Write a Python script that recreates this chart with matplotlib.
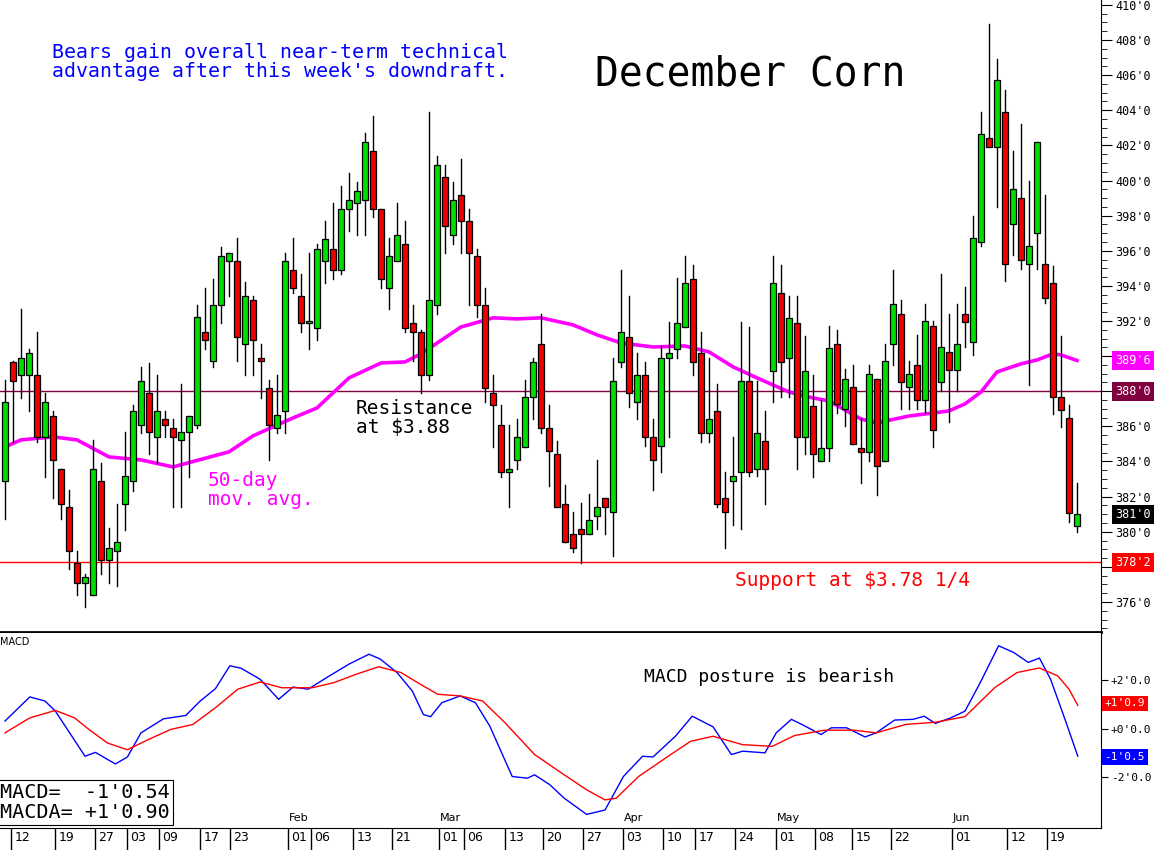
import matplotlib
matplotlib.use("Agg")
import matplotlib.pyplot as plt
from matplotlib.patches import Rectangle

# daily candles, December corn (cents/bu)
opens = [382.9, 389.65, 388.9, 388.9, 388.9, 385.4, 386.6, 383.6, 381.4, 378.2,
         377.1, 376.4, 382.9, 378.4, 378.9, 381.6, 382.9, 386.1, 387.9, 385.4,
         386.4, 385.9, 385.2, 385.7, 386.1, 391.4, 389.7, 392.9, 395.4, 395.4,
         390.7, 393.2, 389.9, 388.2, 385.9, 386.9, 394.9, 393.4, 391.9, 391.6,
         395.4, 396.1, 394.9, 398.4, 398.7, 398.9, 401.7, 398.4, 393.9, 395.4,
         396.4, 391.9, 391.4, 388.9, 392.9, 400.2, 396.9, 399.2, 397.7, 395.7,
         392.9, 387.9, 386.1, 383.4, 384.1, 384.85, 387.65, 390.7, 385.9, 384.4,
         381.6, 379.85, 380.15, 379.85, 380.9, 381.9, 381.1, 389.65, 391.1, 387.4,
         388.9, 385.4, 384.9, 389.9, 390.4, 391.65, 394.4, 390.2, 385.65, 386.9,
         381.9, 382.9, 383.4, 388.6, 383.6, 385.15, 389.15, 393.6, 389.9, 391.9,
         385.4, 387.15, 384.05, 384.75, 390.7, 387.0, 388.25, 384.75, 384.55, 388.7,
         384.05, 390.7, 392.4, 388.25, 389.5, 387.5, 391.7, 388.5, 390.25, 389.2,
         392.4, 390.8, 396.5, 402.4, 401.9, 403.9, 397.5, 399.0, 395.25, 397.0,
         395.25, 394.15, 387.7, 386.5, 380.3]
highs = [388.65, 389.7, 392.7, 390.4, 391.4, 387.9, 386.9, 383.6, 382.4, 378.9,
         377.6, 385.2, 383.9, 380.2, 381.6, 385.7, 387.2, 389.4, 389.6, 388.9,
         386.9, 386.4, 388.4, 386.6, 392.9, 393.9, 394.4, 396.2, 395.9, 396.7,
         394.2, 393.4, 390.7, 388.65, 388.9, 395.9, 396.7, 394.7, 395.9, 396.4,
         397.7, 398.7, 399.7, 400.4, 399.9, 402.7, 403.7, 398.4, 396.7, 398.7,
         397.7, 392.9, 391.5, 403.9, 401.4, 400.9, 399.9, 401.2, 398.4, 396.1,
         393.9, 388.9, 387.2, 386.1, 386.4, 388.65, 389.9, 392.4, 387.2, 385.15,
         382.65, 381.1, 381.65, 382.15, 384.1, 381.9, 389.9, 394.9, 393.4, 390.2,
         389.65, 386.4, 390.6, 391.95, 394.45, 395.7, 395.2, 391.4, 389.9, 388.4,
         383.4, 385.4, 391.95, 391.65, 388.6, 386.9, 395.7, 395.2, 393.4, 393.4,
         391.15, 388.9, 387.5, 391.7, 391.5, 389.25, 389.5, 386.5, 389.5, 388.7,
         390.7, 394.9, 393.2, 389.75, 391.2, 392.95, 392.0, 394.7, 392.4, 392.95,
         393.95, 398.0, 403.9, 408.9, 406.9, 405.15, 401.7, 403.2, 399.95, 402.2,
         399.2, 395.15, 391.15, 387.2, 382.75]
lows = [380.7, 385.1, 387.6, 386.9, 385.1, 383.1, 381.9, 380.7, 377.9, 376.4,
        375.7, 376.4, 377.6, 377.1, 376.9, 380.1, 382.3, 385.6, 384.4, 383.9,
        385.4, 381.4, 381.4, 383.1, 385.9, 390.4, 389.4, 391.9, 393.4, 389.7,
        388.9, 388.9, 387.6, 384.1, 385.6, 385.65, 393.6, 391.4, 390.4, 390.9,
        394.15, 394.4, 394.7, 397.1, 396.9, 396.9, 397.9, 393.9, 392.7, 395.4,
        391.4, 389.7, 387.9, 388.65, 392.4, 395.9, 396.4, 395.9, 392.9, 392.2,
        387.4, 384.85, 383.1, 381.4, 383.6, 384.85, 386.4, 385.65, 382.6, 381.4,
        379.4, 378.85, 378.2, 379.85, 380.15, 379.85, 378.6, 389.4, 387.1, 386.4,
        384.9, 382.4, 383.4, 385.4, 389.9, 391.65, 388.9, 385.1, 385.1, 381.4,
        379.1, 380.4, 380.15, 383.15, 383.15, 381.6, 387.4, 387.65, 387.65, 383.6,
        384.4, 383.1, 384.05, 384.05, 386.75, 386.0, 385.0, 382.8, 384.05, 382.1,
        384.05, 389.5, 387.0, 387.0, 387.0, 386.75, 384.8, 388.0, 386.25, 388.0,
        390.5, 390.05, 396.25, 401.9, 398.5, 394.25, 395.75, 394.95, 388.35, 394.95,
        393.0, 386.7, 385.95, 380.55, 380.0]
closes = [387.36, 388.6, 389.9, 390.2, 385.4, 387.4, 384.1, 381.6, 378.9, 377.1,
          377.4, 383.6, 378.4, 379.1, 379.4, 383.2, 386.9, 388.6, 385.7, 386.9,
          386.1, 385.4, 385.7, 386.6, 392.2, 390.9, 392.9, 395.7, 395.9, 391.1,
          393.4, 390.9, 389.7, 386.1, 386.65, 395.4, 393.9, 391.9, 391.9, 396.1,
          396.65, 394.9, 398.4, 398.9, 399.4, 402.2, 398.4, 394.4, 395.7, 396.9,
          391.6, 391.4, 388.9, 393.2, 400.9, 397.4, 398.9, 397.7, 395.9, 392.9,
          388.2, 387.2, 383.4, 383.6, 385.4, 387.65, 389.65, 385.9, 384.6, 381.4,
          379.4, 379.1, 379.85, 380.65, 381.4, 381.4, 388.6, 391.4, 387.9, 388.9,
          385.4, 384.1, 389.9, 390.2, 391.9, 394.15, 389.65, 385.65, 386.4, 381.6,
          381.1, 383.2, 388.6, 383.4, 385.65, 383.6, 394.15, 389.65, 392.15, 385.4,
          389.15, 384.4, 384.75, 390.45, 387.25, 388.7, 385.0, 384.55, 389.0, 383.75,
          389.75, 392.95, 388.5, 389.0, 387.5, 392.0, 385.8, 390.5, 389.2, 390.7,
          391.95, 396.75, 402.65, 401.9, 405.7, 395.25, 399.5, 395.5, 396.25, 402.2,
          393.3, 387.7, 386.95, 381.05, 381.0]

# 50-day moving average, read at selected bars
ma_idx = [0, 2, 6, 9, 13, 17, 21, 28, 31, 36, 39, 43, 47, 50, 52, 57, 61, 64, 67,
          71, 74, 77, 81, 85, 88, 91, 94, 98, 101, 103, 107, 109, 113, 116, 118,
          120, 122, 124, 127, 129, 131, 132, 134]
ma_val = [384.83, 385.23, 385.4, 385.23, 384.26, 384.09, 383.69, 384.55, 385.46,
          386.48, 387.05, 388.76, 389.61, 389.67, 390.13, 391.66, 392.18, 392.12,
          392.18, 391.78, 391.21, 390.75, 390.52, 390.58, 390.24, 389.39, 388.76,
          387.96, 387.62, 387.45, 386.42, 386.2, 386.59, 386.76, 386.88, 387.28,
          387.96, 389.1, 389.56, 389.78, 390.13, 390.07, 389.75]

# MACD lines
macd_idx = [0, 3.1, 5.0, 6.3, 10.0, 11.3, 13.8, 15.3, 17.0, 19.8, 22.6, 24.4, 26.3,
            28.1, 29.5, 31.9, 34.2, 36.0, 37.9, 40.2, 43.0, 45.5, 46.9, 49.0, 50.9,
            52.3, 53.2, 54.6, 56.9, 58.8, 60.6, 63.4, 65.3, 66.2, 68.1, 69.9, 72.7,
            75.0, 77.3, 79.7, 81.0, 83.8, 85.9, 88.5, 90.8, 92.2, 95.0, 96.4, 98.3,
            99.6, 102.0, 103.3, 105.2, 107.5, 108.9, 111.2, 113.5, 114.9, 116.3,
            118.2, 120.0, 121.9, 124.2, 126.1, 127.9, 129.3, 130.7, 132.5, 134.1]
macd_val = [0.31, 1.31, 1.14, 0.72, -1.15, -0.99, -1.47, -1.18, -0.18, 0.40, 0.54,
            1.14, 1.65, 2.60, 2.50, 2.04, 1.21, 1.72, 1.63, 2.11, 2.67, 3.08, 2.88,
            2.32, 1.56, 0.58, 0.49, 1.07, 1.35, 1.07, 0.10, -1.99, -2.06, -1.92,
            -2.33, -2.89, -3.56, -3.38, -1.99, -1.15, -1.18, -0.32, 0.51, 0.07,
            -1.08, -0.94, -1.01, -0.18, 0.38, 0.17, -0.25, 0.03, 0.03, -0.35, -0.18,
            0.35, 0.38, 0.51, 0.21, 0.44, 0.72, 1.90, 3.43, 3.15, 2.74, 2.92, 2.04,
            0.38, -1.15]
sig_idx = [0, 3.1, 6.3, 8.7, 10.5, 12.8, 15.3, 17.9, 20.7, 23.5, 26.3, 29.1, 31.9,
           34.6, 38.4, 41.1, 43.9, 46.7, 49.5, 52.3, 54.1, 56.9, 59.7, 62.5, 66.2,
           69.9, 72.7, 75.0, 76.4, 79.2, 82.9, 85.7, 88.5, 92.2, 95.9, 98.7, 102.4,
           106.1, 108.9, 112.6, 116.3, 120.0, 123.7, 126.5, 129.3, 131.6, 133.0, 134.1]
sig_val = [-0.18, 0.44, 0.75, 0.44, -0.04, -0.60, -0.88, -0.46, -0.04, 0.17, 0.86,
           1.63, 1.93, 1.69, 1.69, 1.90, 2.25, 2.56, 2.32, 1.76, 1.42, 1.35, 1.14,
           0.24, -1.08, -1.92, -2.54, -2.96, -2.89, -1.99, -1.15, -0.53, -0.32,
           -0.67, -0.74, -0.29, -0.07, -0.07, -0.18, 0.17, 0.26, 0.49, 1.69, 2.32,
           2.51, 2.18, 1.63, 0.96]

date_pos = [0.77, 6.3, 11.3, 15.3, 19.3, 24.4, 28.1, 35.4, 38.3, 43.5, 48.4, 54.3,
            57.4, 62.5, 67.3, 72.2, 77.3, 82.3, 86.3, 91.3, 96.4, 101.3, 105.9,
            110.7, 118.4, 125.3, 130.2]
date_lab = ["12", "19", "27", "03", "09", "17", "23", "01", "06", "13", "21", "01",
            "06", "13", "20", "27", "03", "10", "17", "24", "01", "08", "15", "22",
            "01", "12", "19"]
month_pos = [35.4, 54.3, 77.3, 96.4, 118.4]
month_lab = ["Feb", "Mar", "Apr", "May", "Jun"]

W, H = 1164, 850
mono = "DejaVu Sans Mono"
fig = plt.figure(figsize=(W / 100, H / 100), dpi=100)


def px_axes(x0, y0, x1, y1):
    return fig.add_axes([x0 / W, 1 - y1 / H, (x1 - x0) / W, (y1 - y0) / H])


xlim = (-0.625, 137.0)

# ---- price panel
ax = px_axes(0, 0, 1101, 632)
ax.set_xlim(*xlim)
ax.set_ylim(374.29, 410.28)
for i in range(len(opens)):
    o, h, l, c = opens[i], highs[i], lows[i], closes[i]
    ax.plot([i, i], [l, h], color="black", lw=1, zorder=2)
    col = "#00dd00" if c >= o else "#ee0000"
    ax.add_patch(Rectangle((i - 0.38, min(o, c)), 0.76, max(abs(c - o), 0.12),
                           facecolor=col, edgecolor="black", lw=0.9, zorder=3))
ax.plot(ma_idx, ma_val, color="#ff00ff", lw=2.6, zorder=1)
ax.axhline(388.0, color="#800040", lw=1, zorder=0)
ax.axhline(378.25, color="#ff0000", lw=1, zorder=0)

ax.set_xticks([])
ax.yaxis.tick_right()
ax.set_yticks(range(376, 411, 2))
ax.set_yticklabels(["" if v in (378, 388, 390) else f"{v}'0"
                    for v in range(376, 411, 2)], fontsize=8.5, family=mono)
ax.set_yticks([v / 2 for v in range(749, 821)], minor=True)
ax.tick_params(axis="y", which="major", length=8, pad=2)
ax.tick_params(axis="y", which="minor", length=4)
for s in ["top", "left"]:
    ax.spines[s].set_visible(False)
ax.spines["bottom"].set_linewidth(2)

for val, txt, bg, fg in [(389.75, "389'6", "#ff00ff", "white"),
                         (388.0, "388'0", "#800040", "white"),
                         (381.0, "381'0", "black", "white"),
                         (378.25, "378'2", "#ff0000", "white")]:
    ax.text(1.013, val, txt, transform=ax.get_yaxis_transform(), fontsize=8.5,
            family=mono, color=fg, va="center", ha="left", clip_on=False,
            bbox=dict(boxstyle="square,pad=0.25", fc=bg, ec="none"))

ax.text(52 / 1101, 1 - 62 / 632, "Bears gain overall near-term technical\n"
        "advantage after this week's downdraft.", transform=ax.transAxes,
        color="#0000ff", fontsize=14.3, family=mono, va="center",
        linespacing=0.95)
ax.text(595 / 1101, 1 - 75 / 632, "December Corn", transform=ax.transAxes,
        fontsize=28.5, family=mono, va="center")
ax.text(356 / 1101, 1 - 418 / 632, "Resistance\nat $3.88", transform=ax.transAxes,
        fontsize=14, family=mono, va="center", linespacing=0.95)
ax.text(208 / 1101, 1 - 490 / 632, "50-day\nmov. avg.", transform=ax.transAxes,
        fontsize=14, family=mono, va="center", color="#ff00ff", linespacing=0.95)
ax.text(735 / 1101, 1 - 581 / 632, "Support at $3.78 1/4", transform=ax.transAxes,
        fontsize=14, family=mono, va="center", color="#ff0000")

# ---- MACD panel
mx = px_axes(0, 633, 1101, 828)
mx.set_xlim(*xlim)
mx.set_ylim(-4.125, 3.96)
mx.plot(macd_idx, macd_val, color="#0000ff", lw=1)
mx.plot(sig_idx, sig_val, color="#ff0000", lw=1)
mx.set_xticks([])
mx.yaxis.tick_right()
mx.set_yticks([2, 0, -2])
mx.set_yticklabels(["+2'0.0", "+0'0.0", "-2'0.0"], fontsize=8, family=mono)
mx.tick_params(axis="y", length=5, pad=2)
for s in ["top", "left"]:
    mx.spines[s].set_visible(False)
for val, txt, bg in [(1.04, "+1'0.9", "#ff0000"), (-1.17, "-1'0.5", "#0000ff")]:
    mx.text(1.003, val, txt, transform=mx.get_yaxis_transform(), fontsize=8,
            family=mono, color="white", va="center", ha="left", clip_on=False,
            bbox=dict(boxstyle="square,pad=0.25", fc=bg, ec="none"))
mx.text(0.0, 0.955, "MACD", transform=mx.transAxes, fontsize=7, va="center")
mx.text(644 / 1101, 1 - 44 / 195, "MACD posture is bearish", transform=mx.transAxes,
        fontsize=13, family=mono, va="center")
mx.text(0.0, 0.13, "MACD=  -1'0.54\nMACDA= +1'0.90", transform=mx.transAxes,
        fontsize=14.5, family=mono, va="center", linespacing=1.1,
        bbox=dict(boxstyle="square,pad=0.15", fc="white", ec="black", lw=0.8))
for p, m in zip(month_pos, month_lab):
    mx.text(p + 0.1, -3.9, m, fontsize=8, va="bottom", ha="left")

# ---- date strip
dx = px_axes(0, 828, 1101, 850)
dx.set_xlim(*xlim)
dx.set_ylim(0, 1)
dx.axis("off")
for p, t in zip(date_pos, date_lab):
    dx.plot([p, p], [0.05, 1], color="black", lw=1)
    dx.text(p + 0.4, 0.55, t, fontsize=9, va="center", ha="left")

fig.savefig("out.png", dpi=100)
